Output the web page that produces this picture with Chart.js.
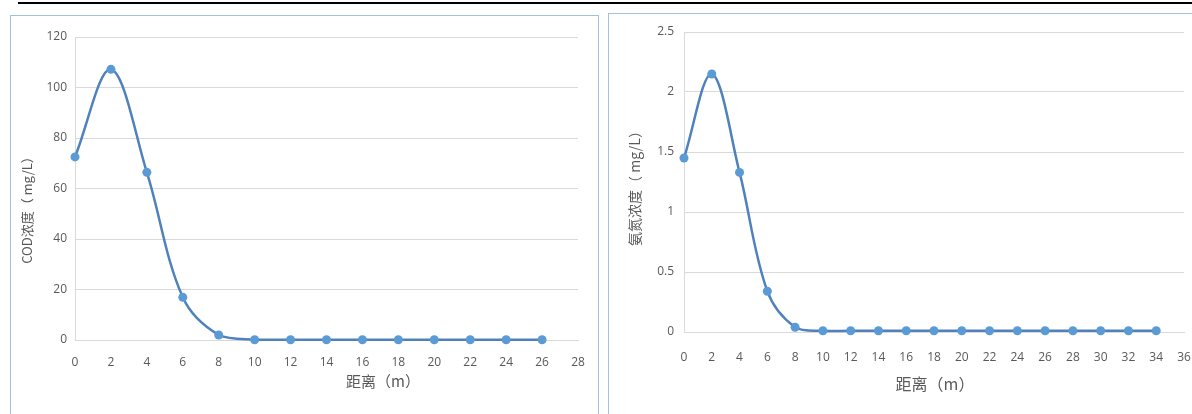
<!DOCTYPE html>
<html>
<head>
<meta charset="utf-8">
<script src="https://cdn.jsdelivr.net/npm/chart.js@4"></script>
<style>
  html, body { margin:0; padding:0; background:#fff; width:1192px; height:414px; overflow:hidden; position:relative; }
  .topline { position:absolute; left:18px; top:2px; width:1174px; height:2px; background:#000; }
  .frame { position:absolute; border:1px solid #a3c0dc; background:#fff; box-sizing:border-box; }
  canvas { position:absolute; }
</style>
</head>
<body>
<div class="topline"></div>
<div class="frame" style="left:10px;top:15px;width:589px;height:430px;"></div>
<div class="frame" style="left:608px;top:13px;width:620px;height:430px;"></div>
<canvas id="c1" style="left:10px;top:15px;width:588px;height:399px;" width="588" height="399"></canvas>
<canvas id="c2" style="left:608px;top:13px;width:584px;height:401px;" width="584" height="401"></canvas>
<script>
// ---- data ----
const distanceCOD = [0, 2, 4, 6, 8, 10, 12, 14, 16, 18, 20, 22, 24, 26];
const codValues   = [72.5, 107.2, 66.4, 16.9, 2.0, 0.1, 0.1, 0.1, 0.1, 0.1, 0.1, 0.1, 0.1, 0.1];
const distanceNH  = [0, 2, 4, 6, 8, 10, 12, 14, 16, 18, 20, 22, 24, 26, 28, 30, 32, 34];
const nhValues    = [1.45, 2.15, 1.33, 0.34, 0.04, 0.01, 0.01, 0.01, 0.01, 0.01, 0.01, 0.01, 0.01, 0.01, 0.01, 0.01, 0.01, 0.01];
const xTitle = '距离（m）';
const yTitleCOD = 'COD浓度（ mg/L）';
const yTitleNH = '氨氮浓度（ mg/L）';

const tickFont = { family: "'Liberation Sans Narrow', 'Open Sans', sans-serif", size: 12 };
const tickColor = '#595959';
const gridColor = '#d9d9d9';

const axisTitlePlugin = {
  id: 'axisTitles',
  afterDraw(chart, args, opts) {
    const ctx = chart.ctx;
    // y title (rotated)
    ctx.save();
    ctx.translate(opts.yX, opts.yY);
    ctx.rotate(-Math.PI / 2);
    ctx.font = opts.ySize + "px 'Noto Sans CJK SC', sans-serif";
    ctx.fillStyle = tickColor;
    ctx.textAlign = 'center';
    ctx.textBaseline = 'middle';
    ctx.fillText(opts.yText, 0, 0);
    ctx.restore();
    // x title
    ctx.save();
    ctx.font = opts.xSize + "px 'Noto Sans CJK SC', sans-serif";
    ctx.fillStyle = tickColor;
    ctx.textAlign = 'center';
    ctx.textBaseline = 'middle';
    ctx.fillText(opts.xText, opts.xX, opts.xY);
    ctx.restore();
  }
};

function makeChart(id, xs, ys, cfg) {
  const pts = xs.map((x, i) => ({ x: x, y: ys[i] }));
  return new Chart(document.getElementById(id), {
    type: 'line',
    data: { datasets: [{
      data: pts,
      borderColor: '#4f81bd',
      borderWidth: 2.5,
      backgroundColor: '#5b9bd5',
      pointBackgroundColor: '#5b9bd5',
      pointBorderColor: '#5b9bd5',
      pointRadius: 4.5,
      pointBorderWidth: 0,
      tension: 0.35,
      clip: false
    }]},
    options: {
      responsive: false,
      animation: false,
      events: [],
      layout: { padding: { left: 0, right: cfg.padRight, top: cfg.padTop, bottom: 0 } },
      plugins: {
        legend: { display: false },
        tooltip: { enabled: false },
        axisTitles: {
          yText: cfg.yTitle, yX: cfg.yTitleX, yY: cfg.yTitleY, ySize: cfg.yTitleSize,
          xText: xTitle, xX: cfg.xTitleX, xY: cfg.xTitleY, xSize: cfg.xTitleSize
        }
      },
      scales: {
        x: {
          type: 'linear',
          min: 0, max: cfg.xMax,
          afterFit: s => { s.height = cfg.xAxisH; s.paddingLeft = 0; s.paddingRight = 0; },
          grid: { display: false, drawTicks: false },
          border: { display: true, color: gridColor, width: 1 },
          ticks: { stepSize: 2, color: tickColor, font: tickFont, padding: cfg.xTickPad, maxRotation: 0, autoSkip: false }
        },
        y: {
          min: 0, max: cfg.yMax,
          afterFit: s => { s.width = cfg.yAxisW; s.paddingTop = 0; s.paddingBottom = 0; },
          grid: { color: gridColor, drawTicks: false, lineWidth: 1 },
          border: { display: true, color: gridColor, width: 1 },
          ticks: { stepSize: cfg.yStep, color: tickColor, font: tickFont, padding: cfg.yTickPad,
                   callback: v => String(Math.round(v * 100) / 100) }
        }
      }
    },
    plugins: [axisTitlePlugin]
  });
}

makeChart('c1', distanceCOD, codValues, {
  xMax: 28, yMax: 120, yStep: 20,
  padRight: 20, padTop: 22, yAxisW: 65, xAxisH: 74,
  xTickPad: 15, yTickPad: 8,
  yTitle: yTitleCOD, yTitleX: 17, yTitleY: 192, yTitleSize: 13,
  xTitleX: 373, xTitleY: 366, xTitleSize: 15
});

makeChart('c2', distanceNH, nhValues, {
  xMax: 36, yMax: 2.5, yStep: 0.5,
  padRight: 8, padTop: 19, yAxisW: 76, xAxisH: 82,
  xTickPad: 18, yTickPad: 10,
  yTitle: yTitleNH, yTitleX: 27, yTitleY: 172, yTitleSize: 14,
  xTitleX: 327, xTitleY: 371, xTitleSize: 16
});
</script>
</body>
</html>
